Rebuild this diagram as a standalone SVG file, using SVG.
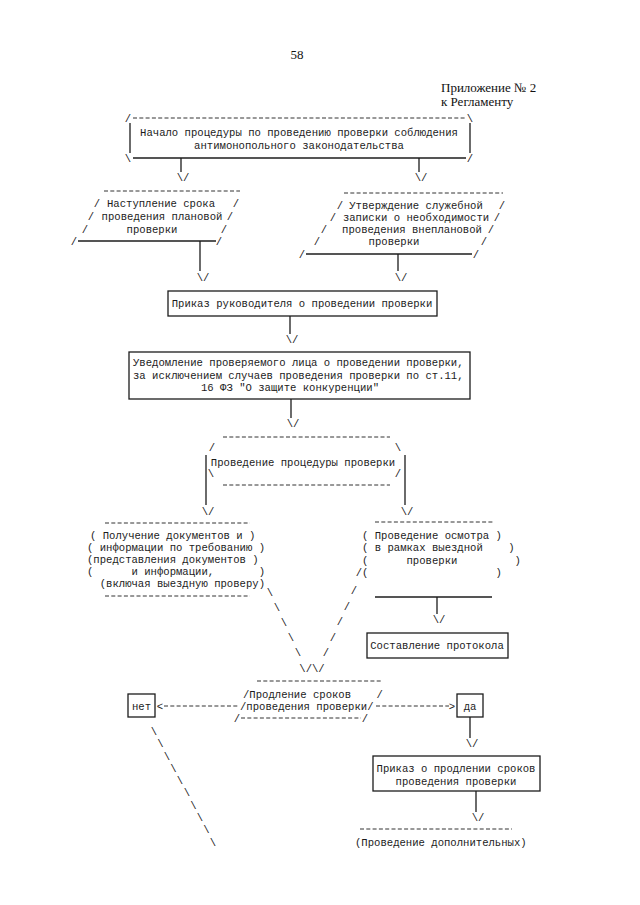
<svg xmlns="http://www.w3.org/2000/svg" width="640" height="905" viewBox="0 0 640 905" xml:space="preserve">
<style>
.t{font-family:"Liberation Mono","DejaVu Sans Mono",monospace;font-size:10.6px;fill:#1c1c1c;white-space:pre}
.c{text-anchor:middle}
.s{fill:none;stroke:#1c1c1c;stroke-width:1.3}
.b{fill:#fff;stroke:#1c1c1c;stroke-width:1.3}
.d{fill:none;stroke:#333;stroke-width:1;stroke-dasharray:4 2.3}
.h{font-family:"Liberation Serif","Times New Roman",serif;font-size:13px;fill:#111}
</style>
<rect width="640" height="905" fill="#fff"/>
<g id="header">
<text class="h" x="297" y="59" text-anchor="middle">58</text>
<text class="h" x="441" y="92">Приложение № 2</text>
<text class="h" x="441" y="106">к Регламенту</text>
</g>
<g id="start">
<text class="t c" x="128" y="122">/</text>
<line class="d" x1="133" y1="118" x2="466" y2="118"/>
<text class="t c" x="470" y="122">\</text>
<line class="s" x1="130" y1="123" x2="130" y2="153"/>
<line class="s" x1="470" y1="123" x2="470" y2="153"/>
<text class="t c" x="299" y="136">Начало процедуры по проведению проверки соблюдения</text>
<text class="t c" x="299" y="149">антимонопольного законодательства</text>
<text class="t c" x="128" y="162">\</text>
<line class="s" x1="133" y1="158" x2="466" y2="158"/>
<text class="t c" x="470" y="162">/</text>
</g>
<g id="planned">
<line class="d" x1="104" y1="191" x2="240" y2="191"/>
<text class="t c" x="97" y="207">/</text><text class="t c" x="161" y="207">Наступление срока</text><text class="t c" x="236" y="207">/</text>
<text class="t c" x="91" y="220">/</text><text class="t c" x="162" y="220">проведения плановой</text><text class="t c" x="230" y="220">/</text>
<text class="t c" x="85" y="233">/</text><text class="t c" x="152" y="233">проверки</text><text class="t c" x="224" y="233">/</text>
<text class="t c" x="74" y="245">/</text><line class="s" x1="78" y1="241" x2="216" y2="241"/><text class="t c" x="219" y="245">/</text>
</g>
<g id="unplanned">
<line class="d" x1="344" y1="193" x2="503" y2="193"/>
<text class="t c" x="340" y="209">/</text><text class="t c" x="416" y="209">Утверждение служебной</text><text class="t c" x="502" y="209">/</text>
<text class="t c" x="333" y="221">/</text><text class="t c" x="416" y="221">записки о необходимости</text><text class="t c" x="497" y="221">/</text>
<text class="t c" x="324" y="233">/</text><text class="t c" x="412" y="233">проведения внеплановой</text><text class="t c" x="491" y="233">/</text>
<text class="t c" x="317" y="245">/</text><text class="t c" x="394" y="245">проверки</text><text class="t c" x="484" y="245">/</text>
<text class="t c" x="302" y="258">/</text><line class="s" x1="306" y1="254" x2="472" y2="254"/><text class="t c" x="476" y="258">/</text>
</g>
<g id="order">
<rect class="b" x="168" y="291" width="269" height="25"/>
<text class="t c" x="302" y="307">Приказ руководителя о проведении проверки</text>
</g>
<g id="notice">
<rect class="b" x="129" y="352" width="341" height="47"/>
<text class="t" x="133" y="366">Уведомление проверяемого лица о проведении проверки,</text>
<text class="t" x="133" y="379">за исключением случаев проведения проверки по ст.11,</text>
<text class="t c" x="290" y="391">16 ФЗ "О защите конкуренции"</text>
</g>
<g id="procedure">
<line class="d" x1="223" y1="437" x2="390" y2="437"/>
<text class="t c" x="212" y="451">/</text><text class="t c" x="398" y="451">\</text>
<text class="t c" x="303" y="466">Проведение процедуры проверки</text>
<text class="t c" x="211" y="477">\</text><text class="t c" x="398" y="477">/</text>
<line class="d" x1="223" y1="485" x2="390" y2="485"/>
</g>
<g id="documents">
<line class="d" x1="105" y1="523" x2="250" y2="523"/>
<text class="t" x="90" y="539">( Получение документов и )</text>
<text class="t" x="87" y="551">( информации по требованию )</text>
<text class="t" x="87" y="563">(представления документов )</text>
<text class="t" x="87" y="575">(      и информации,       )</text>
<text class="t" x="87" y="587">  (включая выездную проверу)</text>
<line class="d" x1="105" y1="596" x2="250" y2="596"/>
</g>
<g id="inspection">
<line class="d" x1="375" y1="522" x2="494" y2="522"/>
<text class="t" x="362" y="539">( Проведение осмотра )</text>
<text class="t" x="362" y="551">( в рамках выездной    )</text>
<text class="t" x="362" y="564">(      проверки         )</text>
<text class="t" x="355.7" y="576">/(                    )</text>
<line class="s" x1="375" y1="597" x2="492" y2="597"/>
</g>
<g id="protocol">
<rect class="b" x="367" y="633" width="141" height="25"/>
<text class="t c" x="437" y="649">Составление протокола</text>
</g>
<g id="extension">
<line class="d" x1="257" y1="681" x2="383" y2="681"/>
<text class="t" x="243" y="698">/Продление сроков    /</text>
<text class="t" x="240" y="710">/проведения проверки/</text>
<text class="t c" x="237" y="722">/</text><line class="d" x1="241" y1="718" x2="361" y2="718"/><text class="t c" x="365" y="722">/</text>
</g>
<g id="no">
<rect class="b" x="128" y="694" width="27" height="23"/>
<text class="t c" x="141.5" y="710">нет</text>
</g>
<g id="yes">
<rect class="b" x="457" y="694" width="26" height="23"/>
<text class="t c" x="470" y="710">да</text>
</g>
<g id="ext-order">
<rect class="b" x="373" y="756" width="167" height="35"/>
<text class="t c" x="456" y="772">Приказ о продлении сроков</text>
<text class="t c" x="456" y="785">проведения проверки</text>
</g>
<g id="additional">
<line class="d" x1="360" y1="829" x2="512" y2="829"/>
<text class="t" x="355" y="846">(Проведение дополнительных)</text>
</g>
<g id="connectors">
<line class="s" x1="181" y1="158" x2="181" y2="172"/><text class="t c" x="183" y="181">\/</text>
<line class="s" x1="419" y1="158" x2="419" y2="172"/><text class="t c" x="421" y="181">\/</text>
<line class="s" x1="200" y1="241" x2="200" y2="271"/><text class="t c" x="203" y="281">\/</text>
<line class="s" x1="398" y1="254" x2="398" y2="271"/><text class="t c" x="401" y="281">\/</text>
<line class="s" x1="290" y1="316" x2="290" y2="334"/><text class="t c" x="292" y="343">\/</text>
<line class="s" x1="291" y1="399" x2="291" y2="418"/><text class="t c" x="293" y="427">\/</text>
<line class="s" x1="206" y1="455" x2="206" y2="505"/><text class="t c" x="208" y="515">\/</text>
<line class="s" x1="405" y1="455" x2="405" y2="505"/><text class="t c" x="407" y="515">\/</text>
<line class="s" x1="437" y1="597" x2="437" y2="614"/><text class="t c" x="439" y="623">\/</text>
<text class="t c" x="270" y="596">\</text><text class="t c" x="277" y="611">\</text><text class="t c" x="284" y="626">\</text><text class="t c" x="291" y="641">\</text><text class="t c" x="298" y="656">\</text>
<text class="t c" x="354" y="594">/</text><text class="t c" x="347" y="610">/</text><text class="t c" x="340" y="625">/</text><text class="t c" x="333" y="641">/</text><text class="t c" x="326" y="656">/</text>
<text class="t c" x="312" y="672">\/\/</text>
<text class="t c" x="160" y="710">&lt;</text><line class="d" x1="164" y1="706" x2="239" y2="706"/>
<line class="d" x1="376" y1="706" x2="449" y2="706"/><text class="t c" x="452" y="710">&gt;</text>
<line class="s" x1="470" y1="717" x2="470" y2="738"/><text class="t c" x="472" y="747">\/</text>
<line class="s" x1="476" y1="791" x2="476" y2="812"/><text class="t c" x="478" y="821">\/</text>
<text class="t c" x="154" y="735">\</text><text class="t c" x="160.5" y="747">\</text><text class="t c" x="167" y="760">\</text><text class="t c" x="173.5" y="772">\</text><text class="t c" x="180" y="784">\</text><text class="t c" x="187" y="796">\</text><text class="t c" x="193.5" y="809">\</text><text class="t c" x="200" y="821">\</text><text class="t c" x="206.5" y="833">\</text><text class="t c" x="213" y="846">\</text>
</g>
</svg>
